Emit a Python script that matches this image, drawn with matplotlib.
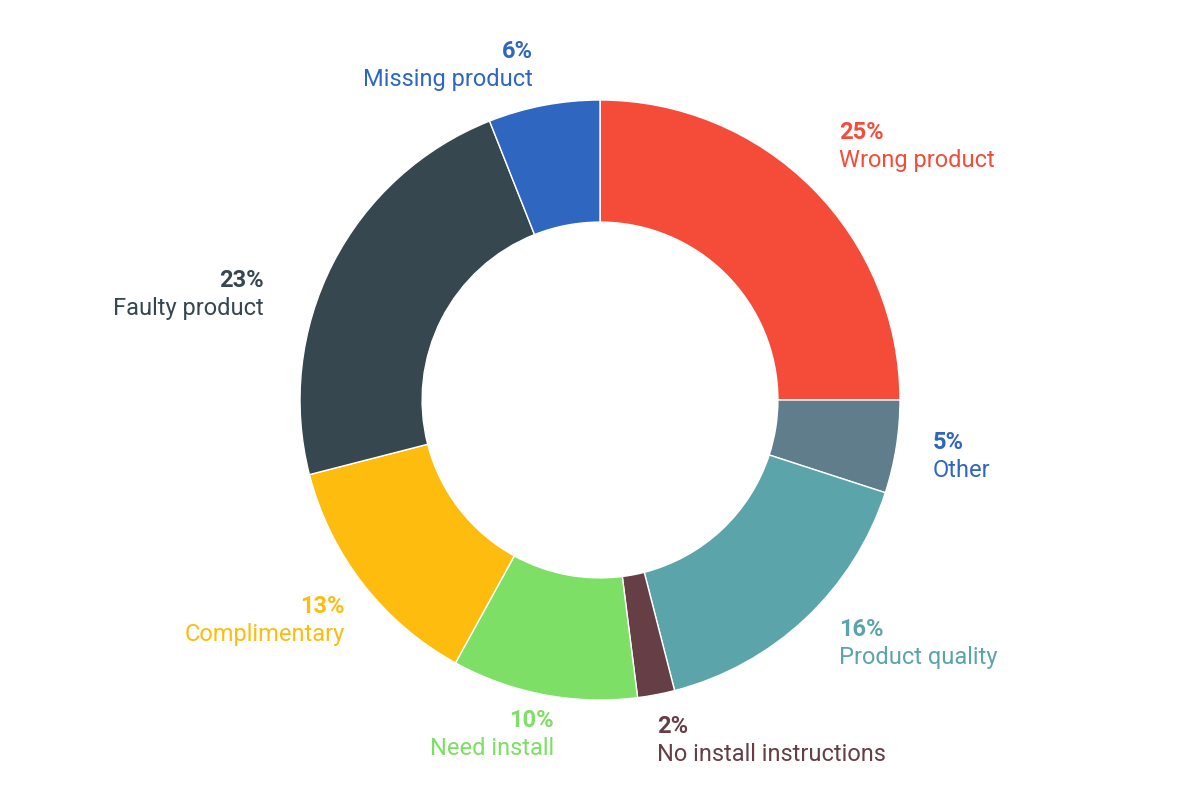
import matplotlib
matplotlib.use("Agg")
import matplotlib.pyplot as plt
import numpy as np

categories = ["Wrong product", "Other", "Product quality", "No install instructions",
              "Need install", "Complimentary", "Faulty product", "Missing product"]
values = [25, 5, 16, 2, 10, 13, 23, 6]
colors = ["#F54C3A", "#607D8B", "#5BA5AA", "#663E46", "#7DDF65", "#FEBC0F", "#37474F", "#2F66C0"]
label_colors = ["#F54C3A", "#2F66C0", "#5BA5AA", "#663E46", "#7DDF65", "#FEBC0F", "#37474F", "#2F66C0"]

# layout: label anchor (pixel x edge, pixel baseline of percent line), alignment
label_px = [(839, 139), (933, 449), (839, 636), (657, 733),
            (554, 727), (345, 613), (264, 287), (533, 58)]
label_ha = ['left', 'left', 'left', 'left', 'right', 'right', 'right', 'right']

plt.rcParams['font.family'] = ['Roboto', 'DejaVu Sans']

W, H = 1198, 800
CX, CY, R = 600.0, 400.0, 300.0
fig = plt.figure(figsize=(W / 100, H / 100), dpi=100)
ax = fig.add_axes([0, 0, 1, 1])

ax.pie(values, colors=colors, startangle=90, counterclock=False,
       radius=1.0, wedgeprops=dict(width=0.407, edgecolor='white', linewidth=1))
ax.set_xlim(-CX / R, (W - CX) / R)
ax.set_ylim(-(H - CY) / R, CY / R)
ax.set_aspect('equal')
ax.axis('off')

FS = 17
gap = 28 / R
for v, name, lc, (px, py), ha in zip(values, categories, label_colors, label_px, label_ha):
    x = (px - CX) / R
    y = (CY - py) / R
    ax.text(x, y, f"{v}%", color=lc, fontsize=FS, fontweight='bold', ha=ha, va='baseline')
    ax.text(x, y - gap, name, color=lc, fontsize=FS, ha=ha, va='baseline')

fig.savefig("out.png", dpi=100)
